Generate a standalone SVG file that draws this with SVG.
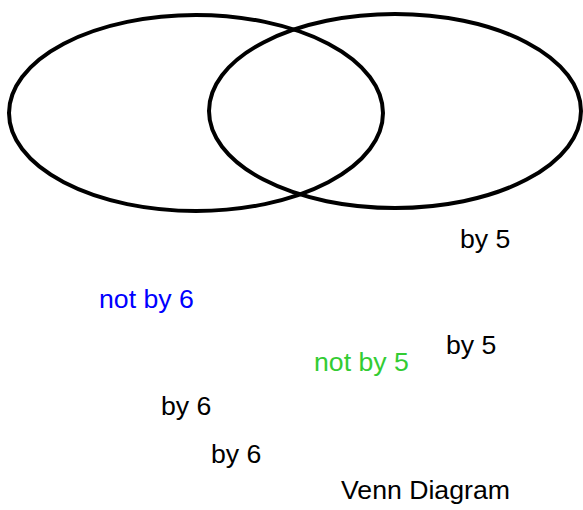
<svg xmlns="http://www.w3.org/2000/svg" width="583" height="510" viewBox="0 0 583 510">
<style>
.set{fill:none;stroke:#000;stroke-width:4}
text{font-family:"Liberation Sans",Arial,sans-serif;font-size:26.67px;fill:#000}
</style>
<rect width="583" height="510" fill="#fff"/>
<g id="setA"><ellipse class="set" cx="196" cy="113" rx="187" ry="98"/></g>
<g id="setB"><ellipse class="set" cx="395" cy="111" rx="186" ry="97"/></g>
<g id="connectors"></g>
<g id="labels">
<text x="460" y="248">by 5</text>
<text x="99" y="308" style="fill:#0000ff">not by 6</text>
<text x="446" y="354">by 5</text>
<text x="314" y="371" style="fill:#33cc33">not by 5</text>
<text x="161" y="415">by 6</text>
<text x="211" y="463">by 6</text>
<text x="341" y="499">Venn Diagram</text>
</g>
</svg>
